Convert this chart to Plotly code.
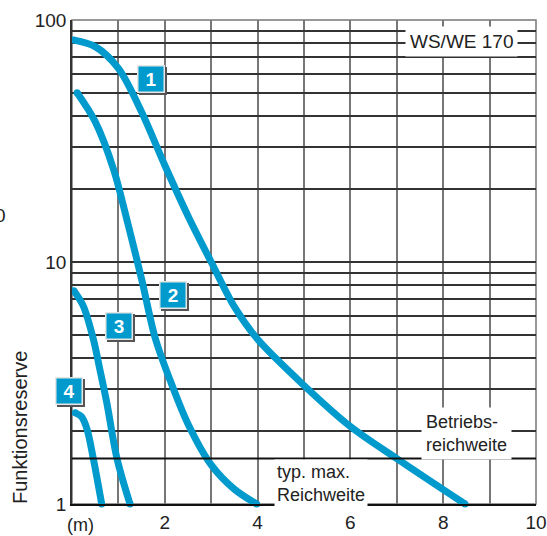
import math
import plotly.graph_objects as go

# ---- data ----
curve1_x = [0.04, 0.5, 1.0, 1.5, 2.0, 2.5, 3.0, 3.5, 4.0, 5.0, 6.0, 7.0, 8.47]
curve1_y = [82.6, 77.6, 63.1, 41.7, 25.1, 15.5, 10.0, 6.53, 4.79, 3.09, 2.09, 1.54, 1.0]
curve2_x = [0.11, 0.5, 0.9, 1.2, 1.5, 1.8, 2.1, 2.5, 3.0, 3.5, 3.98]
curve2_y = [50, 38, 24, 14.5, 8.5, 4.8, 3.3, 2.14, 1.45, 1.15, 1.0]
curve3_x = [0.04, 0.24, 0.46, 0.6, 0.75, 0.97, 1.25]
curve3_y = [7.6, 6.6, 4.8, 3.6, 2.62, 1.54, 1.0]
curve4_x = [0.07, 0.2, 0.32, 0.46, 0.64]
curve4_y = [2.38, 2.3, 2.05, 1.54, 1.0]
threshold = 1.54

x_ticks = list(range(0, 11))
x_labels = ["", "", "2", "", "4", "", "6", "", "8", "", "10"]
y_ticks = [1, 2, 3, 4, 5, 6, 7, 8, 9, 10, 20, 30, 40, 50, 60, 70, 80, 90, 100]
y_labels = ["1"] + [""] * 8 + ["10"] + [""] * 8 + ["100"]

curve_labels = ["1", "2", "3", "4"]
label_x = [1.70, 2.18, 1.01, 0.0]
label_y = [56.9, 7.3, 5.43, 2.94]
label_xshift = [0, 0, 0, -3]

BLUE = "#009ACD"
FONT = "Liberation Sans, Arial, sans-serif"
TXT = "#222"

fig = go.Figure()
for cx, cy in [(curve1_x, curve1_y), (curve2_x, curve2_y), (curve3_x, curve3_y), (curve4_x, curve4_y)]:
    fig.add_trace(go.Scatter(x=cx, y=cy, mode="lines",
                             line=dict(color=BLUE, width=7, shape="spline", smoothing=0.9),
                             hoverinfo="skip", showlegend=False, cliponaxis=False))
    fig.add_trace(go.Scatter(x=[cx[0], cx[-1]], y=[cy[0], cy[-1]], mode="markers",
                             marker=dict(color=BLUE, size=7), hoverinfo="skip",
                             showlegend=False, cliponaxis=False))

# threshold line (Betriebsreichweite / typ. max. Reichweite)
fig.add_trace(go.Scatter(x=[0, 10], y=[threshold, threshold], mode="lines",
                         line=dict(color="#111", width=2), hoverinfo="skip", showlegend=False))

# frame
fig.add_shape(type="rect", xref="paper", yref="paper", x0=0, x1=1, y0=0, y1=1,
              line=dict(color="#777", width=1.5), layer="below")

ann = []
for t, lx, ly, xs in zip(curve_labels, label_x, label_y, label_xshift):
    ann.append(dict(x=lx, y=math.log10(ly), text=" ", showarrow=False, width=25, height=25,
                    bgcolor="#555", bordercolor="#555", borderwidth=1.5, borderpad=0,
                    xshift=xs + 2, yshift=-2, font=dict(size=17)))
    ann.append(dict(x=lx, y=math.log10(ly), text="<b>%s</b>" % t, showarrow=False, width=25, height=25,
                    bgcolor=BLUE, bordercolor="#e6e6e6", borderwidth=1.5, borderpad=0, xshift=xs,
                    font=dict(size=19, color="white", family=FONT)))

ann.append(dict(x=8.4, y=math.log10(81.8), text="WS/WE 170", showarrow=False, bgcolor="white",
                borderpad=4, font=dict(size=19, color=TXT, family=FONT)))
ann.append(dict(x=8.51, y=math.log10(1.95), text="Betriebs-<br>reichweite", align="left",
                showarrow=False, bgcolor="white", borderpad=4,
                font=dict(size=18, color=TXT, family=FONT)))
ann.append(dict(x=5.37, y=math.log10(1.22), text="typ. max.<br>Reichweite", align="left",
                showarrow=False, bgcolor="white", borderpad=2,
                font=dict(size=18, color=TXT, family=FONT)))
ann.append(dict(xref="paper", yref="paper", x=(20 - 72) / 464, y=(504 - 428) / 484,
                xanchor="center", yanchor="middle",
                text="Funktionsreserve", textangle=-90, showarrow=False,
                font=dict(size=20, color=TXT, family=FONT)))
ann.append(dict(xref="paper", yref="paper", x=(80 - 72) / 464, y=(504 - 525) / 484,
                xanchor="center", yanchor="middle",
                text="(m)", showarrow=False, font=dict(size=18, color=TXT, family=FONT)))
ann.append(dict(xref="paper", yref="paper", x=(8 - 72) / 464, xanchor="right",
                y=(504 - 215) / 484, yanchor="middle", text="0", showarrow=False,
                font=dict(size=19, color=TXT, family=FONT)))

fig.update_layout(
    width=547, height=536,
    margin=dict(l=72, r=11, t=20, b=32),
    paper_bgcolor="white", plot_bgcolor="white",
    font=dict(family=FONT, size=18, color=TXT),
    annotations=ann,
    xaxis=dict(range=[0, 10], tickvals=x_ticks, ticktext=x_labels, showgrid=True,
               gridcolor="#777", gridwidth=1.5, zeroline=False, showline=True,
               linecolor="#111", linewidth=2, ticks="", tickfont=dict(size=19), automargin=False),
    yaxis=dict(type="log", range=[0, 2], tickvals=y_ticks, ticktext=y_labels, showgrid=True,
               gridcolor="#333", gridwidth=1.5, zeroline=False, showline=True,
               linecolor="#333", linewidth=1.5, ticks="", tickfont=dict(size=19), automargin=False),
)

fig.write_html("out.html", config={"displayModeBar": False},
               post_script="document.body.style.margin='0';")
